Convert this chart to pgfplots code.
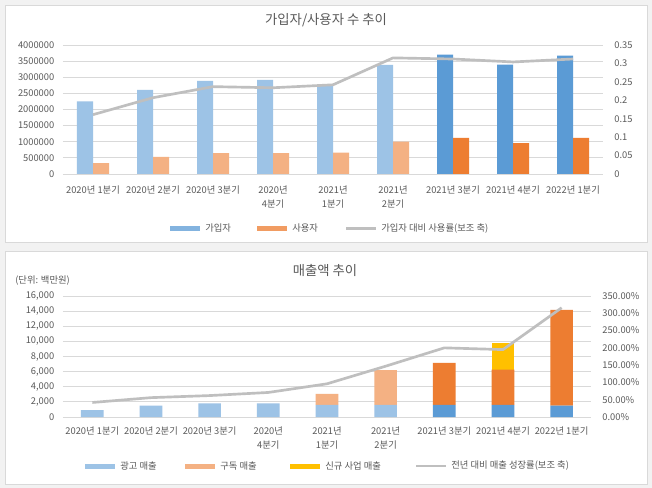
\documentclass[border=0pt]{standalone}
\usepackage{fontspec}
\setmainfont{Noto Sans CJK KR}
\usepackage{pgfplots}
\pgfplotsset{compat=1.18}

\definecolor{bg}{HTML}{F2F2F2}
\definecolor{gridc}{HTML}{D9D9D9}
\definecolor{txt}{HTML}{595959}
\definecolor{blueL}{HTML}{9DC3E6}
\definecolor{blueD}{HTML}{5B9BD5}
\definecolor{orL}{HTML}{F4B183}
\definecolor{orD}{HTML}{ED7D31}
\definecolor{yel}{HTML}{FFC000}
\definecolor{linec}{HTML}{BFBFBF}

\newcommand{\tfont}{\fontsize{7}{10}\selectfont}

\pgfplotsset{
  base/.style={
    scale only axis, anchor=south west,
    xmin=-0.5, xmax=8.5,
    axis line style={draw=none},
    major tick length=0pt,
    ticklabel style={font=\tfont, text=txt},
    /pgf/number format/assume math mode=true,
    scaled y ticks=false,
  },
  leftax/.style={
    base, ymajorgrids,
    grid style={draw=gridc, line width=0.6pt},
    xtick={0,...,8},
    xticklabel style={align=center, yshift=-4pt},
    yticklabel style={xshift=-3pt},
  },
  rightax/.style={
    base, hide x axis,
    ytick pos=right, yticklabel pos=right,
    yticklabel style={anchor=west, xshift=5pt},
  },
}

\begin{document}
\begin{tikzpicture}
\begin{scope}[x=0.75pt, y=-0.75pt]
  \fill[bg] (0,0) rectangle (652,488);
  \filldraw[fill=white, draw=gridc, line width=0.4pt] (5,5) rectangle (647,242);
  \filldraw[fill=white, draw=gridc, line width=0.4pt] (5,251) rectangle (647,484);
\end{scope}

% ---------------- upper chart: subscribers / users ----------------
\begin{axis}[leftax,
  at={(47.25pt,-130.5pt)}, width=405pt, height=96.75pt,
  ymin=0, ymax=4000000,
  ytick={0,500000,1000000,1500000,2000000,2500000,3000000,3500000,4000000},
  yticklabels={0,500000,1000000,1500000,2000000,2500000,3000000,3500000,4000000},
  xticklabels={2020년 1분기,2020년 2분기,2020년 3분기,2020년\\4분기,2021년\\1분기,2021년\\2분기,2021년 3분기,2021년 4분기,2022년 1분기},
  xticklabel style={yshift=-1.5pt},
  ybar, bar width=12pt,
]
  \addplot[fill=blueL, draw=none, bar shift=-6pt] coordinates
    {(0,2250000) (1,2610000) (2,2890000) (3,2920000) (4,2750000) (5,3385000)};
  \addplot[fill=blueD, draw=none, bar shift=-6pt] coordinates
    {(6,3700000) (7,3390000) (8,3670000)};
  \addplot[fill=orL, draw=none, bar shift=6pt] coordinates
    {(0,340000) (1,530000) (2,650000) (3,650000) (4,660000) (5,1000000)};
  \addplot[fill=orD, draw=none, bar shift=6pt] coordinates
    {(6,1120000) (7,960000) (8,1120000)};
\end{axis}
\begin{axis}[rightax,
  at={(47.25pt,-130.5pt)}, width=405pt, height=96.75pt,
  ymin=0, ymax=0.35,
  ytick={0,0.05,0.1,0.15,0.2,0.25,0.3,0.35},
  yticklabels={0,0.05,0.1,0.15,0.2,0.25,0.3,0.35},
]
  \addplot[linec, line width=2pt, mark=none] coordinates
    {(0,0.161) (1,0.207) (2,0.237) (3,0.234) (4,0.242)
     (5,0.315) (6,0.312) (7,0.304) (8,0.312)};
\end{axis}

% ---------------- lower chart: revenue ----------------
\begin{axis}[leftax,
  at={(47.25pt,-312.75pt)}, width=396pt, height=90.75pt,
  ymin=0, ymax=16000,
  ytick={0,2000,4000,6000,8000,10000,12000,14000,16000},
  yticklabels={0,{2,000},{4,000},{6,000},{8,000},{10,000},{12,000},{14,000},{16,000}},
  xticklabels={2020년 1분기,2020년 2분기,2020년 3분기,2020년\\4분기,2021년\\1분기,2021년\\2분기,2021년 3분기,2021년 4분기,2022년 1분기},
  ybar stacked, bar width=17pt,
]
  \addplot[fill=blueL, draw=none] coordinates
    {(0,900) (1,1500) (2,1800) (3,1800) (4,1600) (5,1600) (6,0) (7,0) (8,0)};
  \addplot[fill=blueD, draw=none] coordinates
    {(0,0) (1,0) (2,0) (3,0) (4,0) (5,0) (6,1600) (7,1600) (8,1500)};
  \addplot[fill=orL, draw=none] coordinates
    {(0,0) (1,0) (2,0) (3,0) (4,1450) (5,4600) (6,0) (7,0) (8,0)};
  \addplot[fill=orD, draw=none] coordinates
    {(0,0) (1,0) (2,0) (3,0) (4,0) (5,0) (6,5550) (7,4650) (8,12650)};
  \addplot[fill=yel, draw=none] coordinates
    {(0,0) (1,0) (2,0) (3,0) (4,0) (5,0) (6,0) (7,3550) (8,0)};
\end{axis}
\begin{axis}[rightax,
  at={(47.25pt,-312.75pt)}, width=396pt, height=90.75pt,
  ymin=0, ymax=3.5,
  ytick={0,0.5,1,1.5,2,2.5,3,3.5},
  yticklabels={0.00\%,50.00\%,100.00\%,150.00\%,200.00\%,250.00\%,300.00\%,350.00\%},
]
  \addplot[linec, line width=2pt, mark=none] coordinates
    {(0,0.42) (1,0.56) (2,0.62) (3,0.71) (4,0.96)
     (5,1.47) (6,2.00) (7,1.95) (8,3.16)};
\end{axis}

% ---------------- titles and legends ----------------
\begin{scope}[x=0.75pt, y=-0.75pt, every node/.style={text=txt, inner sep=0pt}]
  \node[font=\fontsize{10}{12}\selectfont] at (326,20) {가입자/사용자 수 추이};
  \node[font=\fontsize{10}{12}\selectfont] at (325,270) {매출액 추이};
  \node[font=\tfont, anchor=west] at (15,281) {(단위: 백만원)};

  \fill[blueL!60!blueD] (170,226) rectangle (200,231);
  \node[font=\tfont, anchor=west] at (205,228.5) {가입자};
  \fill[orL!60!orD] (257,226) rectangle (287,231);
  \node[font=\tfont, anchor=west] at (292,228.5) {사용자};
  \draw[linec, line width=2pt] (346,228.5) -- (376,228.5);
  \node[font=\tfont, anchor=west] at (381,228.5) {가입자 대비 사용률(보조 축)};

  \fill[blueL] (85,463.5) rectangle (115,468.5);
  \node[font=\tfont, anchor=west] at (120,466) {광고 매출};
  \fill[orL] (185,463.5) rectangle (215,468.5);
  \node[font=\tfont, anchor=west] at (220,466) {구독 매출};
  \fill[yel] (290,463.5) rectangle (320,468.5);
  \node[font=\tfont, anchor=west] at (325,466) {신규 사업 매출};
  \draw[linec, line width=2pt] (416,466) -- (446,466);
  \node[font=\tfont, anchor=west] at (451,466) {전년 대비 매출 성장률(보조 축)};
\end{scope}
\end{tikzpicture}
\end{document}
